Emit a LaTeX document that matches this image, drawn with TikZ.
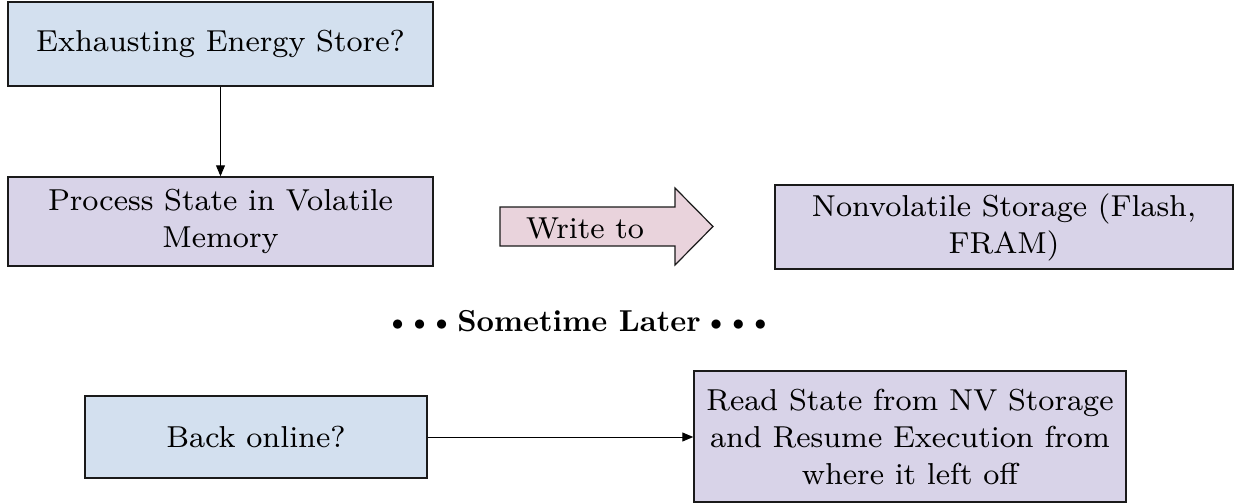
\documentclass[tikz,border=0pt]{standalone}
\usepackage{fontspec}
\setmainfont{lmroman8-regular.otf}[BoldFont=lmroman10-bold.otf]
\usetikzlibrary{arrows.meta}

\definecolor{qblue}{HTML}{D3E0EF}
\definecolor{qpurple}{HTML}{D8D3E8}
\definecolor{qpink}{HTML}{E9D3DC}
\definecolor{qline}{HTML}{1A1A1A}

% three tight bullets used around the separator text
\newcommand{\bulletrow}{\textbullet\kern-5pt\textbullet\kern-5pt\textbullet}

\begin{document}
\begin{tikzpicture}[x=1pt,y=-1pt,
  box/.style={draw=qline, line width=1.5pt, rectangle, align=center,
    inner sep=0pt, font=\fontsize{30.3}{37}\selectfont},
  bluebox/.style={box, fill=qblue},
  purplebox/.style={box, fill=qpurple},
  conn/.style={line width=1pt, -{Triangle[length=11pt,width=9pt]}},
]
\useasboundingbox (0,0) rectangle (1235,503);

% upper column
\node[bluebox, minimum width=425pt, minimum height=84pt] (store) at (220.5,44)
  {Exhausting Energy Store?};
\node[purplebox, minimum width=425pt, minimum height=89pt] (volatile) at (220.5,221.5)
  {Process State in Volatile\\Memory};
\node[purplebox, minimum width=458pt, minimum height=84pt] (nv) at (1004,227)
  {Nonvolatile Storage (Flash,\\FRAM)};

\draw[conn] (store.south) -- (volatile.north);

% block arrow "Write to"
\draw[draw=qline, line width=1.2pt, fill=qpink, line join=miter]
  (500,207) -- (675,207) -- (675,188) -- (713,226.5) -- (675,265)
  -- (675,246) -- (500,246) -- cycle;
\node[font=\fontsize{30.3}{37}\selectfont, inner sep=0pt] (write) at (585,228) {Write to};

% separator
\node[font=\fontsize{30.3}{37}\selectfont\bfseries] (later) at (579,321)
  {\bulletrow\kern2pt Sometime Later\kern2pt\bulletrow};

% lower row
\node[bluebox, minimum width=342pt, minimum height=82pt] (online) at (256,437)
  {Back online?};
\node[purplebox, minimum width=432pt, minimum height=131pt] (resume) at (910,436.5)
  {Read State from NV Storage\\and Resume Execution from\\where it left off};

\draw[conn] (online.east) -- (online.east -| resume.west);
\end{tikzpicture}
\end{document}
